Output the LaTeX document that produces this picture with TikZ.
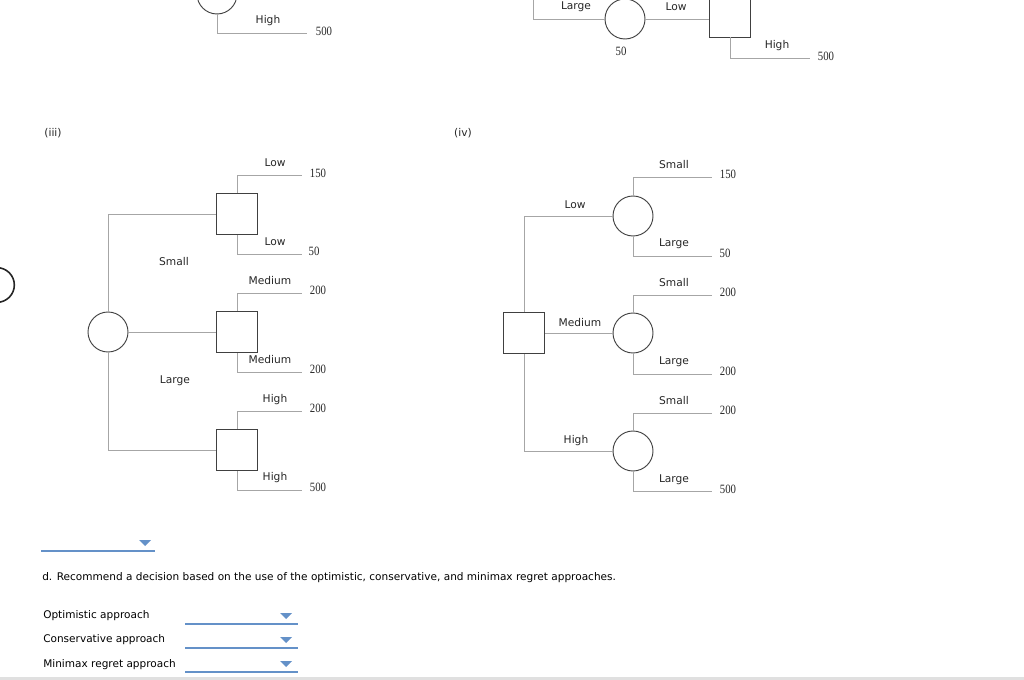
\documentclass[tikz,border=0pt]{standalone}
\usepackage{fontspec}
\setmainfont{DejaVu Sans}
\newfontfamily\numfont{Liberation Serif}
\begin{document}
\begin{tikzpicture}[x=0.75pt,y=-0.75pt,
  br/.style={draw=black!35,line width=0.6pt},
  sq/.style={draw=black!75,line width=0.7pt,minimum size=31pt,inner sep=0pt,rectangle},
  ci/.style={draw=black!75,line width=0.7pt,minimum size=30pt,inner sep=0pt,circle},
  lb/.style={font=\fontsize{8}{9}\selectfont,text=black!85,inner sep=0pt},
  nm/.style={font=\numfont\fontsize{9.5}{10}\selectfont,text=black!85,inner sep=0pt,xscale=0.85},
  tx/.style={font=\fontsize{7.9}{9}\selectfont,inner sep=0pt,anchor=west},
  dd/.style={draw={rgb,255:red,100;green,145;blue,200},line width=1pt},
  tri/.style={fill={rgb,255:red,100;green,145;blue,200}}]
\useasboundingbox (0,0) rectangle (1024,680);
% top fragments
\node[ci] (tc) at (217,-6) {};
\coordinate (te) at (307,33);
\draw[br] (tc.south) |- (te);
\node[lb] (th) at (268,21) {High};
\node[nm] (tv) at (324,31) {500};
\coordinate (tl) at (533,-2);
\node[ci] (tc2) at (625,19) {};
\node[sq,minimum height=42pt] (ts) at (730,9) {};
\coordinate (te2) at (810,58);
\draw[br] (tl) |- (tc2.west);
\draw[br] (tc2.east) -- (ts.west|-tc2.east);
\draw[br] (ts.south) |- (te2);
\node[lb] at (576,7) {Large};
\node[lb] at (676,7) {Low};
\node[nm] at (621,51) {50};
\node[lb] at (777,46) {High};
\node[nm] at (826,56) {500};
% left edge circle
\node[circle,draw=black!85,line width=1.2pt,minimum size=26pt] (edge) at (-3,285) {};
% labels
\node[lb] at (53,133) {(iii)};
\node[lb] at (463,133) {(iv)};
% tree iii
\node[ci] (c0) at (108,332) {};
\node[sq] (s1) at (237,214) {};
\node[sq] (s2) at (237,332) {};
\node[sq] (s3) at (237,450) {};
\draw[br] (c0.north) |- (s1.west);
\draw[br] (c0.south) |- (s3.west);
\draw[br] (c0.east) -- (s2.west);
\foreach \s/\a/\b in {s1/175/254,s2/293/372,s3/411/490}{
  \coordinate (\s a) at (302,\a); \coordinate (\s b) at (302,\b);
  \draw[br] (\s.north) |- (\s a);
  \draw[br] (\s.south) |- (\s b);}
\node[lb] at (174,262) {Small};
\node[lb] at (175,381) {Large};
\node[lb] at (275,163) {Low};    \node[nm] at (318,173) {150};
\node[lb] at (275,242) {Low};    \node[nm] at (314,251) {50};
\node[lb] at (270,281) {Medium}; \node[nm] at (318,290) {200};
\node[lb] at (270,360) {Medium}; \node[nm] at (318,369) {200};
\node[lb] at (275,400) {High};   \node[nm] at (318,408) {200};
\node[lb] at (275,478) {High};   \node[nm] at (318,487) {500};
% tree iv
\node[sq] (d0) at (524,333) {};
\node[ci] (k1) at (633,216) {};
\node[ci] (k2) at (633,333) {};
\node[ci] (k3) at (633,451) {};
\draw[br] (d0.north) |- (k1.west);
\draw[br] (d0.south) |- (k3.west);
\draw[br] (d0.east) -- (k2.west);
\foreach \s/\a/\b in {k1/177/256,k2/295/374,k3/413/491}{
  \coordinate (\s a) at (712,\a); \coordinate (\s b) at (712,\b);
  \draw[br] (\s.north) |- (\s a);
  \draw[br] (\s.south) |- (\s b);}
\node[lb] at (575,205) {Low};
\node[lb] at (580,323) {Medium};
\node[lb] at (576,441) {High};
\node[lb] at (674,165) {Small}; \node[nm] at (728,174) {150};
\node[lb] at (674,244) {Large}; \node[nm] at (725,253) {50};
\node[lb] at (674,283) {Small}; \node[nm] at (728,292) {200};
\node[lb] at (674,362) {Large}; \node[nm] at (728,371) {200};
\node[lb] at (674,401) {Small}; \node[nm] at (728,410) {200};
\node[lb] at (674,480) {Large}; \node[nm] at (728,489) {500};
% dropdowns
\coordinate (u1) at (41,551); \coordinate (u2) at (155,551);
\draw[dd] (u1) -- (u2);
\fill[tri] (139,540) -- (151,540) -- (145,546) -- cycle;
\node[tx] at (42,578) {d. Recommend a decision based on the use of the optimistic, conservative, and minimax regret approaches.};
\foreach \t/\y in {Optimistic approach/616,Conservative approach/640,Minimax regret approach/665}{
  \node[tx] at (43,\y) {\t};}
\foreach \y in {624,648,672}{
  \coordinate (v1) at (185,\y); \coordinate (v2) at (298,\y);
  \draw[dd] (v1) -- (v2);
  \fill[tri] (280,\y-11) -- (292,\y-11) -- (286,\y-5) -- cycle;}
\fill[black!12] (0,677) rectangle (1024,680);
\end{tikzpicture}
\end{document}
